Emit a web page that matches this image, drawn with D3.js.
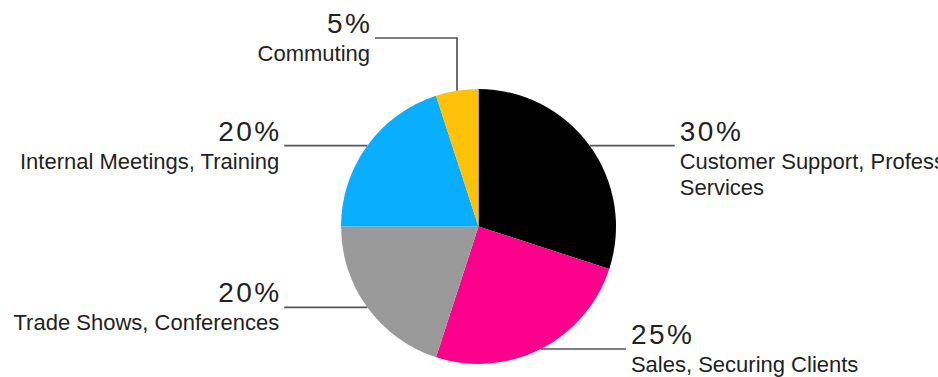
<!DOCTYPE html>
<html>
<head>
<meta charset="utf-8">
<script src="https://cdn.jsdelivr.net/npm/d3@7"></script>
<style>
  html, body { margin: 0; padding: 0; background: #fff; overflow: hidden; }
  svg { display: block; }
</style>
</head>
<body>
<svg id="chart" width="938" height="377"></svg>
<script>
// ---- data ----
const categories = [
  "Customer Support, Professional|Services",
  "Sales, Securing Clients",
  "Trade Shows, Conferences",
  "Internal Meetings, Training",
  "Commuting"
];
const values = [30, 25, 20, 20, 5];
const percentLabels = ["30%", "25%", "20%", "20%", "5%"];
const colors = ["#000000", "#ff008c", "#9a9a9a", "#0aaeff", "#ffc20a"];

// ---- layout ----
const cx = 478.5, cy = 226.5, R = 137.5;
const svg = d3.select("#chart");
const g = svg.append("g").attr("transform", `translate(${cx},${cy})`);

const pie = d3.pie().sort(null).value(d => d.v);
const arc = d3.arc().innerRadius(0).outerRadius(R);
const data = values.map((v, i) => ({ v, i }));
const arcs = pie(data);

g.selectAll("path.slice")
  .data(arcs)
  .join("path")
  .attr("class", "slice")
  .attr("d", arc)
  .attr("fill", d => colors[d.data.i]);

const lineColor = "#555";
const textColor = "#222";
const font = "'Liberation Sans', Arial, Helvetica, sans-serif";
const ls = 2.5;

arcs.forEach(d => {
  const i = d.data.i;
  const mid = (d.startAngle + d.endAngle) / 2;
  const px = Math.sin(mid) * R, py = -Math.cos(mid) * R;
  const lines = categories[i].split("|");
  let pts, tx, ty, anchor;
  if (Math.abs(Math.cos(mid)) > 0.95) {
    const topY = -cy + 38;
    const endX = px - 82;
    pts = [[px, py], [px, topY], [endX, topY]];
    tx = endX - 5; ty = topY; anchor = "end";
  } else {
    const dir = Math.sin(mid) >= 0 ? 1 : -1;
    const len = Math.sin(mid) >= 0 ? 85 : 83;
    const ex = px + dir * len;
    pts = [[px, py], [ex, py]];
    tx = ex + dir * 5; ty = py; anchor = dir > 0 ? "start" : "end";
  }
  g.append("path")
    .attr("d", d3.line()(pts))
    .attr("fill", "none")
    .attr("stroke", lineColor)
    .attr("stroke-width", 1.7);

  g.append("text")
    .attr("x", anchor === "end" ? tx + ls : tx)
    .attr("y", ty - 5)
    .attr("text-anchor", anchor)
    .attr("font-family", font)
    .attr("font-size", 28)
    .attr("letter-spacing", ls + "px")
    .attr("fill", textColor)
    .text(percentLabels[i]);

  lines.forEach((ln, k) => {
    g.append("text")
      .attr("x", tx)
      .attr("y", ty + 23 + k * 26)
      .attr("text-anchor", anchor)
      .attr("font-family", font)
      .attr("font-size", 22)
      .attr("fill", textColor)
      .text(ln);
  });
});
</script>
</body>
</html>
